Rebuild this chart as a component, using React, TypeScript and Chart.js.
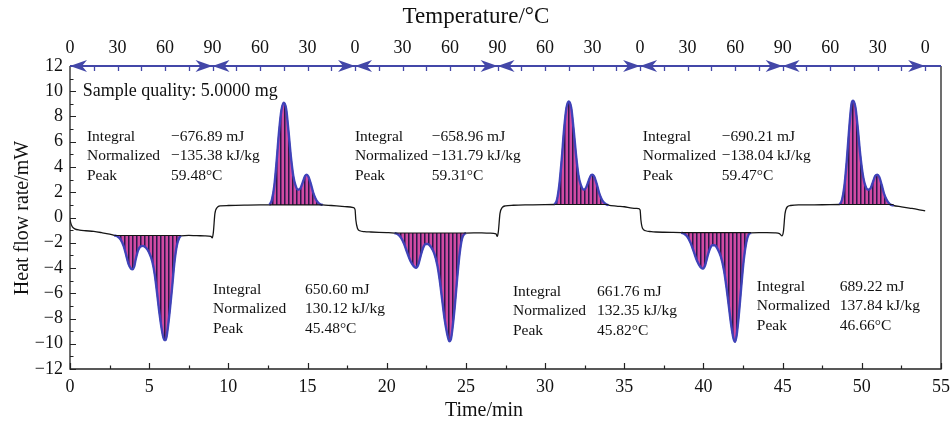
import React, { useEffect, useRef } from "react";
import { Chart, registerables } from "chart.js";
Chart.register(...registerables);

// ---------- DATA ----------
const cycle1Time = [0, 0.05, 0.15, 0.3, 0.6, 1.0, 1.5, 2.0, 2.5, 2.8, 3.0, 3.2, 3.4, 3.55, 3.7, 3.85, 3.95, 4.05, 4.15, 4.3, 4.45, 4.6, 4.8, 5.0, 5.2, 5.35, 5.5, 5.65, 5.8, 5.95, 6.05, 6.15, 6.3, 6.45, 6.6, 6.75, 6.9, 7.0, 7.5, 8.0, 8.5, 8.9, 8.98, 9.05, 9.15, 9.3, 9.5, 10.0, 11.0, 12.0, 12.6, 12.75, 12.9, 13.05, 13.2, 13.35, 13.5, 13.65, 13.8, 13.95, 14.1, 14.25, 14.4, 14.55, 14.7, 14.85, 14.95, 15.05, 15.2, 15.35, 15.5, 15.65, 15.8, 15.95, 16.5, 17.0, 17.5, 17.9];
const cycle1Flow = [-0.15, -0.45, -0.75, -0.9, -1.0, -1.05, -1.1, -1.2, -1.32, -1.42, -1.5, -1.75, -2.3, -3.0, -3.7, -4.05, -4.1, -3.9, -3.3, -2.6, -2.3, -2.25, -2.4, -2.8, -3.5, -4.5, -6.0, -7.6, -8.9, -9.7, -9.7, -9.0, -7.4, -5.5, -3.5, -2.2, -1.6, -1.45, -1.42, -1.44, -1.45, -1.5, -1.62, -1.2, 0.3, 0.8, 0.92, 0.95, 0.98, 1.0, 1.0, 1.4, 2.5, 4.5, 6.8, 8.5, 9.1, 8.6, 6.8, 4.8, 3.3, 2.5, 2.2, 2.3, 2.8, 3.3, 3.4, 3.25, 2.7, 2.0, 1.5, 1.2, 1.05, 1.0, 0.95, 0.9, 0.85, 0.78];

const cycle2Time = [18.0, 18.05, 18.15, 18.3, 18.6, 19.0, 19.5, 20.0, 20.5, 20.7, 20.9, 21.1, 21.3, 21.5, 21.7, 21.85, 22.0, 22.15, 22.3, 22.45, 22.6, 22.8, 23.0, 23.2, 23.35, 23.5, 23.65, 23.8, 23.95, 24.05, 24.15, 24.3, 24.45, 24.6, 24.75, 24.9, 25.0, 25.5, 26.0, 26.5, 26.9, 26.98, 27.05, 27.15, 27.3, 27.5, 28.0, 29.0, 30.0, 30.6, 30.75, 30.9, 31.05, 31.2, 31.35, 31.5, 31.65, 31.8, 31.95, 32.1, 32.25, 32.45, 32.6, 32.75, 32.9, 33.0, 33.1, 33.25, 33.4, 33.55, 33.7, 33.85, 34.0, 34.5, 35.0, 35.5, 35.9];
const cycle2Flow = [0.62, -0.2, -0.85, -1.05, -1.12, -1.15, -1.18, -1.2, -1.23, -1.32, -1.6, -2.1, -2.8, -3.45, -3.85, -3.98, -3.7, -3.0, -2.4, -2.1, -2.1, -2.35, -2.85, -3.8, -5.0, -6.5, -8.0, -9.1, -9.8, -9.65, -8.8, -7.0, -4.8, -2.9, -1.7, -1.3, -1.24, -1.22, -1.22, -1.24, -1.3, -1.5, -1.1, 0.3, 0.8, 0.92, 0.97, 1.0, 1.02, 1.03, 1.4, 2.6, 4.6, 7.0, 8.7, 9.2, 8.7, 7.0, 5.0, 3.4, 2.6, 2.2, 2.4, 2.9, 3.35, 3.4, 3.25, 2.7, 2.0, 1.5, 1.2, 1.05, 0.98, 0.9, 0.85, 0.75, 0.7];

const cycle3Time = [36.0, 36.05, 36.15, 36.35, 36.7, 37.0, 37.5, 38.0, 38.6, 38.8, 39.0, 39.2, 39.4, 39.6, 39.8, 39.95, 40.1, 40.25, 40.4, 40.55, 40.7, 40.9, 41.1, 41.3, 41.45, 41.6, 41.75, 41.9, 42.0, 42.1, 42.25, 42.4, 42.55, 42.7, 42.85, 43.0, 43.5, 44.0, 44.5, 44.8, 44.95, 45.05, 45.15, 45.3, 45.5, 46.0, 47.0, 48.0, 48.6, 48.75, 48.9, 49.05, 49.2, 49.35, 49.45, 49.6, 49.75, 49.9, 50.05, 50.2, 50.4, 50.55, 50.7, 50.85, 50.98, 51.1, 51.25, 51.4, 51.55, 51.7, 51.85, 52.0, 52.5, 53.0, 53.5, 54.0];
const cycle3Flow = [0.6, -0.2, -0.85, -1.05, -1.12, -1.15, -1.17, -1.18, -1.2, -1.3, -1.55, -2.05, -2.75, -3.45, -3.9, -4.05, -3.8, -3.1, -2.5, -2.2, -2.2, -2.5, -3.1, -4.2, -5.5, -7.0, -8.5, -9.6, -9.85, -9.3, -7.5, -5.3, -3.3, -2.0, -1.35, -1.22, -1.2, -1.2, -1.22, -1.28, -1.45, -1.1, 0.3, 0.85, 0.95, 1.0, 1.0, 1.02, 1.03, 1.4, 2.5, 4.5, 7.0, 9.0, 9.25, 8.7, 7.0, 5.0, 3.5, 2.6, 2.2, 2.3, 2.8, 3.3, 3.4, 3.2, 2.6, 1.9, 1.45, 1.15, 1.0, 0.95, 0.85, 0.75, 0.65, 0.52];

// peak integration windows: [start, end, baseline]
const peakWindows: [number, number, number][] = [
  [2.8, 7.0, -1.42],
  [12.6, 15.95, 1.0],
  [20.5, 25.0, -1.23],
  [30.6, 34.0, 1.03],
  [38.6, 43.0, -1.2],
  [48.6, 52.0, 1.03],
];

// temperature program segments (heating / cooling) for the top arrows
const programSegments: [number, number][] = [[0, 9], [9, 18], [18, 27], [27, 36], [36, 45], [45, 54]];
const tempTickTimes = [0, 3, 6, 9, 12, 15, 18, 21, 24, 27, 30, 33, 36, 39, 42, 45, 48, 51, 54];
const tempTickLabels = ["0", "30", "60", "90", "60", "30", "0", "30", "60", "90", "60", "30", "0", "30", "60", "90", "60", "30", "0"];

const sampleNote = { t: 0.8, v: 10.0, text: "Sample quality: 5.0000 mg" };
const resultBlocks = [
  { t: 1.07, tv: 6.38, v: 6.42, rows: [["Integral", "\u2212676.89 mJ"], ["Normalized", "\u2212135.38 kJ/kg"], ["Peak", "59.48\u00B0C"]] },
  { t: 17.99, tv: 22.85, v: 6.42, rows: [["Integral", "\u2212658.96 mJ"], ["Normalized", "\u2212131.79 kJ/kg"], ["Peak", "59.31\u00B0C"]] },
  { t: 36.17, tv: 41.16, v: 6.42, rows: [["Integral", "\u2212690.21 mJ"], ["Normalized", "\u2212138.04 kJ/kg"], ["Peak", "59.47\u00B0C"]] },
  { t: 9.03, tv: 14.84, v: -5.7, rows: [["Integral", "650.60 mJ"], ["Normalized", "130.12 kJ/kg"], ["Peak", "45.48\u00B0C"]] },
  { t: 27.97, tv: 33.27, v: -5.86, rows: [["Integral", "661.76 mJ"], ["Normalized", "132.35 kJ/kg"], ["Peak", "45.82\u00B0C"]] },
  { t: 43.37, tv: 48.61, v: -5.47, rows: [["Integral", "689.22 mJ"], ["Normalized", "137.84 kJ/kg"], ["Peak", "46.66\u00B0C"]] },
];

// ---------- STYLE ----------
const SERIF = '"Liberation Serif", "Times New Roman", serif';
const BLUE = "#4347a8";

function makePattern(): CanvasPattern | string {
  const c = document.createElement("canvas");
  c.width = 4;
  c.height = 4;
  const g = c.getContext("2d");
  if (!g) return "#c03c96";
  g.fillStyle = "#d04ba2";
  g.fillRect(0, 0, 4, 4);
  g.fillStyle = "#2a1b4a";
  g.fillRect(0, 0, 1, 4);
  g.fillStyle = "#7e2c78";
  g.fillRect(1, 0, 1, 4);
  const p = g.createPattern(c, "repeat");
  return p || "#c03c96";
}

const decorPlugin = {
  id: "decor",
  afterDatasetsDraw(chart: any) {
    const { ctx, scales } = chart;
    const x = scales.x, y = scales.y;
    ctx.save();
    ctx.fillStyle = "#111";
    ctx.textBaseline = "middle";
    ctx.textAlign = "left";
    ctx.font = `18px ${SERIF}`;
    ctx.fillText(sampleNote.text, x.getPixelForValue(sampleNote.t), y.getPixelForValue(sampleNote.v));
    ctx.font = `15.5px ${SERIF}`;
    for (const b of resultBlocks) {
      const y0 = y.getPixelForValue(b.v);
      b.rows.forEach((r, i) => {
        const py = y0 + i * 19.5;
        ctx.fillText(r[0], x.getPixelForValue(b.t), py);
        ctx.fillText(r[1], x.getPixelForValue(b.tv), py);
      });
    }
    ctx.restore();
  },
  afterDraw(chart: any) {
    const { ctx, chartArea: a, scales } = chart;
    const x = scales.x, y = scales.y;
    ctx.save();
    // frame (left, bottom, right)
    ctx.strokeStyle = "#222";
    ctx.lineWidth = 1.3;
    ctx.beginPath();
    ctx.moveTo(a.left, a.top);
    ctx.lineTo(a.left, a.bottom);
    ctx.lineTo(a.right, a.bottom);
    ctx.lineTo(a.right, a.top);
    ctx.stroke();
    // inward ticks bottom
    ctx.lineWidth = 1.2;
    ctx.beginPath();
    for (let t = 0; t <= 55.001; t += 2.5) {
      const px = Math.round(x.getPixelForValue(t)) + 0.5;
      const len = Math.abs(t % 5) < 0.01 ? 6 : 3.5;
      ctx.moveTo(px, a.bottom);
      ctx.lineTo(px, a.bottom - len);
    }
    // inward ticks left
    for (let v = -12; v <= 12; v += 1) {
      const py = Math.round(y.getPixelForValue(v)) + 0.5;
      const len = v % 2 === 0 ? 6 : 3.5;
      ctx.moveTo(a.left, py);
      ctx.lineTo(a.left + len, py);
    }
    ctx.stroke();
    // top blue line with arrows
    ctx.strokeStyle = BLUE;
    ctx.fillStyle = BLUE;
    ctx.lineWidth = 2;
    ctx.beginPath();
    ctx.moveTo(a.left, a.top);
    ctx.lineTo(a.right, a.top);
    ctx.stroke();
    ctx.lineWidth = 1.3;
    ctx.beginPath();
    for (let t = 1.5; t <= 55; t += 1.5) {
      const px = Math.round(x.getPixelForValue(t)) + 0.5;
      ctx.moveTo(px, a.top);
      ctx.lineTo(px, a.top + 5);
    }
    ctx.stroke();
    const head = (tip: number, dir: number) => {
      ctx.beginPath();
      ctx.moveTo(tip, a.top);
      ctx.lineTo(tip - dir * 17, a.top - 6);
      ctx.lineTo(tip - dir * 12, a.top);
      ctx.lineTo(tip - dir * 17, a.top + 6);
      ctx.closePath();
      ctx.fill();
    };
    for (const [s, e] of programSegments) {
      head(x.getPixelForValue(s), -1);
      head(x.getPixelForValue(e), 1);
    }
    // axis titles
    ctx.fillStyle = "#111";
    ctx.textAlign = "center";
    ctx.textBaseline = "middle";
    ctx.font = `23px ${SERIF}`;
    ctx.fillText("Temperature/\u00B0C", 476, 17);
    ctx.font = `20px ${SERIF}`;
    ctx.fillText("Time/min", 484, 411);
    ctx.translate(23, 218);
    ctx.rotate(-Math.PI / 2);
    ctx.fillText("Heat flow rate/mW", 0, 0);
    ctx.restore();
  },
};

export default function App() {
  const ref = useRef<HTMLCanvasElement | null>(null);
  useEffect(() => {
    document.body.style.margin = "0";
    const canvas = ref.current;
    if (!canvas) return;
    const allTime = [...cycle1Time, ...cycle2Time, ...cycle3Time];
    const allFlow = [...cycle1Flow, ...cycle2Flow, ...cycle3Flow];
    const curve = allTime.map((t, i) => ({ x: t, y: allFlow[i] }));
    const pattern = makePattern();

    const datasets: any[] = [
      {
        data: curve,
        borderColor: "#161616",
        borderWidth: 1.3,
        pointRadius: 0,
        cubicInterpolationMode: "monotone",
        fill: false,
        order: 3,
      },
    ];
    peakWindows.forEach(([s, e, base]) => {
      const pts = curve.filter((p) => p.x >= s - 1e-9 && p.x <= e + 1e-9);
      datasets.push({
        data: pts,
        borderColor: "rgba(62,66,190,0.95)",
        borderWidth: 2.4,
        pointRadius: 0,
        cubicInterpolationMode: "monotone",
        fill: { value: base },
        backgroundColor: pattern,
        order: 2,
      });
      datasets.push({
        data: [{ x: s, y: base }, { x: e, y: base }],
        borderColor: "#161616",
        borderWidth: 1.1,
        pointRadius: 0,
        fill: false,
        order: 1,
      });
    });

    const tickFont = { family: SERIF, size: 18 };
    const fitX = (h: number) => (s: any) => {
      s.height = h;
      s.paddingLeft = 0;
      s.paddingRight = 0;
    };
    const chart = new Chart(canvas, {
      type: "line",
      data: { datasets },
      options: {
        animation: false,
        responsive: false,
        maintainAspectRatio: false,
        devicePixelRatio: 1,
        layout: { padding: { left: 0, right: 9, top: 0, bottom: 0 } },
        plugins: { legend: { display: false }, tooltip: { enabled: false } },
        scales: {
          x: {
            type: "linear",
            position: "bottom",
            min: 0,
            max: 55,
            grid: { display: false, drawTicks: false },
            border: { display: false },
            ticks: { stepSize: 5, font: tickFont, color: "#111", padding: 7, maxRotation: 0 },
            afterFit: fitX(58),
          },
          xTop: {
            type: "linear",
            position: "top",
            min: 0,
            max: 55,
            grid: { display: false, drawTicks: false },
            border: { display: false },
            afterBuildTicks: (s: any) => { s.ticks = tempTickTimes.map((v) => ({ value: v })); },
            ticks: {
              autoSkip: false,
              maxRotation: 0,
              font: tickFont,
              color: "#111",
              padding: 7,
              callback: (_v: any, i: number) => tempTickLabels[i],
            },
            afterFit: fitX(66),
          },
          y: {
            type: "linear",
            position: "left",
            min: -12,
            max: 12,
            grid: { display: false, drawTicks: false },
            border: { display: false },
            ticks: {
              stepSize: 2,
              font: tickFont,
              color: "#111",
              padding: 7,
              callback: (v: any) => (v < 0 ? "\u2212" + Math.abs(v) : String(v)),
            },
            afterFit: (s: any) => {
              s.width = 70;
              s.paddingTop = 0;
              s.paddingBottom = 0;
            },
          },
        },
      },
      plugins: [decorPlugin],
    });
    return () => chart.destroy();
  }, []);
  return (
    <div style={{ position: "relative", width: 950, height: 427 }}>
      <canvas ref={ref} width={950} height={427} />
    </div>
  );
}
